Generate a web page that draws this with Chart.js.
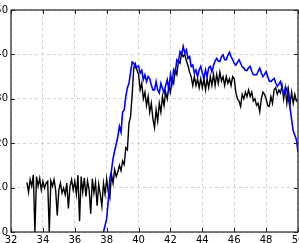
<!DOCTYPE html>
<html><head><meta charset="utf-8">
<script src="https://cdn.jsdelivr.net/npm/chart.js@4/dist/chart.umd.min.js"></script>
<style>
html,body{margin:0;padding:0;overflow:hidden;width:299px;height:243px;background:#fff}
#wrap{position:absolute;left:-20px;top:0;}
canvas{display:block}
</style></head><body><div id="wrap"><canvas id="c" width="339" height="263" style="width:339px;height:263px"></canvas></div>
<script>
// sampling grid (start and step of the x values)
const blackStart = 33.0;
const blueStart = 37.8;
const step = 0.1;
// black series, one value every 0.1 from 33.0 to 50.0
const blackValues = [
11.2,9.0,11.8,10.3,12.9,0,12.5,10.3,12.1,9.5,
11.4,9.9,11.0,11.4,0,11.5,10.3,11.8,9.5,3.7,
9.5,11.0,8.8,9.9,8.4,11.0,5.3,10.3,11.8,9.5,
11.4,8.5,12.8,2.4,12.5,9.0,12.2,8.0,11.5,9.5,
4.1,12.0,8.8,11.2,5.9,10.8,8.5,5.8,11.0,8.5,
12.0,9.0,7.7,13.0,11.0,14.0,12.5,13.5,15.0,13.8,
16.0,15.2,19.0,18.5,24.5,26.0,31.0,37.0,37.9,36.5,
35.5,32.0,33.5,30.0,31.5,28.5,30.5,27.0,29.0,25.5,
23.5,27.5,25.0,29.0,27.0,30.5,28.5,31.5,30.0,33.0,
31.5,34.5,33.5,36.5,35.5,38.5,38.0,40.3,39.5,40.0,
38.5,37.5,36.0,35.0,33.0,35.0,33.0,34.5,32.5,34.5,
32.5,34.5,32.0,34.5,32.5,35.0,33.0,35.5,33.0,35.5,
33.5,36.0,34.0,35.0,33.0,35.0,33.5,34.5,33.0,35.0,
34.5,31.5,30.0,29.5,28.3,31.0,30.0,31.5,30.5,32.0,
30.5,31.5,29.5,30.0,28.5,29.0,27.1,30.0,31.5,31.0,
30.0,28.5,28.3,30.5,29.0,32.0,32.5,31.0,32.0,31.3,
33.0,30.0,32.5,29.0,32.0,28.8,31.5,29.0,31.0,29.5,
30.0
];
// blue series, one value every 0.1 from 37.8 to 50.0
const blueValues = [
0,1.5,3.0,7.0,12.0,13.8,16.5,18.3,19.8,21.5,
23.8,22.5,27.0,27.5,30.5,32.5,33.5,36.0,38.3,38.0,
37.0,37.2,37.4,35.8,36.4,34.3,35.4,33.9,35.0,34.5,
33.1,32.0,32.0,33.9,32.0,31.3,33.5,32.4,31.3,33.0,
34.3,32.0,35.4,33.5,36.5,35.8,38.8,38.4,40.6,39.9,
41.8,40.3,41.0,39.1,39.5,37.3,37.6,35.8,36.5,35.0,
36.5,37.3,35.8,34.6,36.5,35.0,37.0,37.3,36.1,37.5,
38.5,39.1,38.5,38.4,39.5,39.9,38.8,38.8,39.8,40.5,
39.5,38.8,38.0,37.6,38.2,38.8,38.0,37.2,36.9,36.4,
36.4,37.0,37.3,36.2,35.4,35.4,35.4,36.2,36.9,35.8,
35.0,35.5,36.1,35.0,34.0,33.9,34.3,34.6,33.6,32.8,
33.3,33.9,32.5,30.9,31.8,32.4,30.0,28.0,25.3,22.8,
21.8,20.8,18.0
];
const xTicks = [32,34,36,38,40,42,44,46,48,50];
const yTicks = [0,10,20,30,40,50];

const toPoints = (start, vals) => vals.map((v, i) => ({x: +(start + i * step).toFixed(2), y: v}));

const frame = {
  id: 'frame',
  afterDatasetsDraw(chart) {
    const {ctx, chartArea: a, scales: {x, y}} = chart;
    ctx.save();
    ctx.strokeStyle = '#222';
    ctx.lineWidth = 1;
    ctx.beginPath();
    xTicks.forEach(t => {
      const px = Math.round(x.getPixelForValue(t)) + 0.5;
      ctx.moveTo(px, a.bottom); ctx.lineTo(px, a.bottom - 4);
      ctx.moveTo(px, a.top); ctx.lineTo(px, a.top + 4);
    });
    yTicks.forEach(t => {
      const py = Math.round(y.getPixelForValue(t)) + 0.5;
      ctx.moveTo(a.left, py); ctx.lineTo(a.left + 4, py);
      ctx.moveTo(a.right, py); ctx.lineTo(a.right - 4, py);
    });
    ctx.stroke();
    ctx.lineWidth = 1.2;
    ctx.strokeRect(a.left, a.top, a.right - a.left, a.bottom - a.top);
    ctx.restore();
  }
};

const font = {family: 'DejaVu Sans', size: 10};
new Chart(document.getElementById('c'), {
  type: 'line',
  data: {
    datasets: [
      {data: toPoints(blueStart, blueValues), borderColor: '#0000ff', borderWidth: 1.6, order: 0},
      {data: toPoints(blackStart, blackValues), borderColor: '#000000', borderWidth: 1.4, order: 1}
    ]
  },
  options: {
    responsive: false, animation: false, devicePixelRatio: 1,
    layout: {padding: {left: 0, right: 21, top: 10, bottom: 11}},
    plugins: {legend: {display: false}, tooltip: {enabled: false}},
    elements: {point: {radius: 0}, line: {tension: 0, fill: false}},
    scales: {
      x: {
        type: 'linear', min: 32, max: 50,
        afterBuildTicks: s => { s.ticks = xTicks.map(v => ({value: v})); },
        afterFit: s => { s.height = 20; s.paddingLeft = 0; s.paddingRight = 0; s.paddingTop = 0; s.paddingBottom = 0; },
        ticks: {padding: 2, font, color: '#000', maxRotation: 0, autoSkip: false},
        grid: {color: '#d4d4d4', lineWidth: 1, drawTicks: false},
        border: {display: false, dash: [3, 3]}
      },
      y: {
        min: 0, max: 50,
        afterBuildTicks: s => { s.ticks = yTicks.map(v => ({value: v})); },
        afterFit: s => { s.width = 31; s.paddingLeft = 0; s.paddingRight = 0; s.paddingTop = 0; s.paddingBottom = 0; },
        ticks: {padding: 3, font, color: '#000', autoSkip: false},
        grid: {color: '#d4d4d4', lineWidth: 1, drawTicks: false},
        border: {display: false, dash: [3, 3]}
      }
    }
  },
  plugins: [frame]
});
</script></body></html>
